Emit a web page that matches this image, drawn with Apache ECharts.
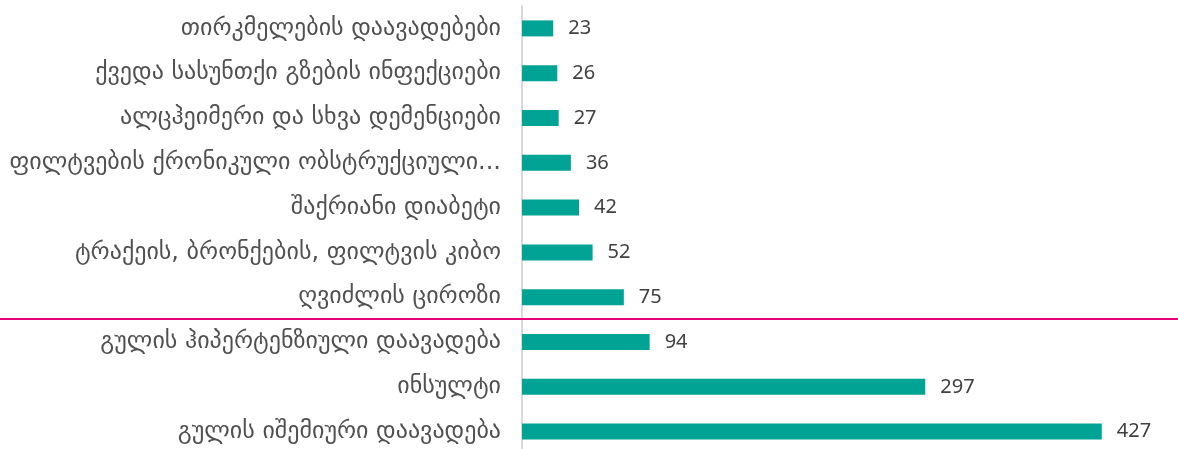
<!DOCTYPE html>
<html>
<head>
<meta charset="utf-8">
<script src="https://cdn.jsdelivr.net/npm/echarts@6/dist/echarts.min.js"></script>
<style>
  html, body { margin: 0; padding: 0; background: #fff; }
  #chart { width: 1178px; height: 449px; }
</style>
</head>
<body>
<div id="chart"></div>
<script>
  // categories top to bottom
  var categories = [
    'თირკმელების დაავადებები',
    'ქვედა სასუნთქი გზების ინფექციები',
    'ალცჰეიმერი და სხვა დემენციები',
    'ფილტვების ქრონიკული ობსტრუქციული...',
    'შაქრიანი დიაბეტი',
    'ტრაქეის, ბრონქების, ფილტვის კიბო',
    'ღვიძლის ციროზი',
    'გულის ჰიპერტენზიული დაავადება',
    'ინსულტი',
    'გულის იშემიური დაავადება'
  ]
  var values = [23, 26, 27, 36, 42, 52, 75, 94, 297, 427]

  var chart = echarts.init(document.getElementById('chart'))
  var option = {
    animation: false,
    grid: { left: 522, right: 45, top: 6, bottom: -5, outerBoundsMode: 'none', containLabel: false },
    xAxis: {
      type: 'value',
      min: 0,
      max: 450,
      show: false
    },
    yAxis: {
      type: 'category',
      inverse: true,
      data: categories,
      axisTick: { show: false },
      axisLine: { show: true, lineStyle: { color: '#d9d9d9', width: 2 } },
      axisLabel: {
        color: '#505050',
        fontSize: 24,
        fontFamily: 'DejaVu Sans',
        margin: 21
      }
    },
    series: [{
      type: 'bar',
      data: values,
      barWidth: 16,
      itemStyle: { color: '#00a394' },
      label: {
        show: true,
        position: 'right',
        distance: 15,
        color: '#404040',
        fontSize: 20,
        fontFamily: 'Noto Sans'
      }
    }],
    graphic: [{
      type: 'line',
      shape: { x1: 0, y1: 319, x2: 1178, y2: 319 },
      style: { stroke: '#e6007e', lineWidth: 2 },
      z: 10
    }]
  }
  chart.setOption(option)
</script>
</body>
</html>
